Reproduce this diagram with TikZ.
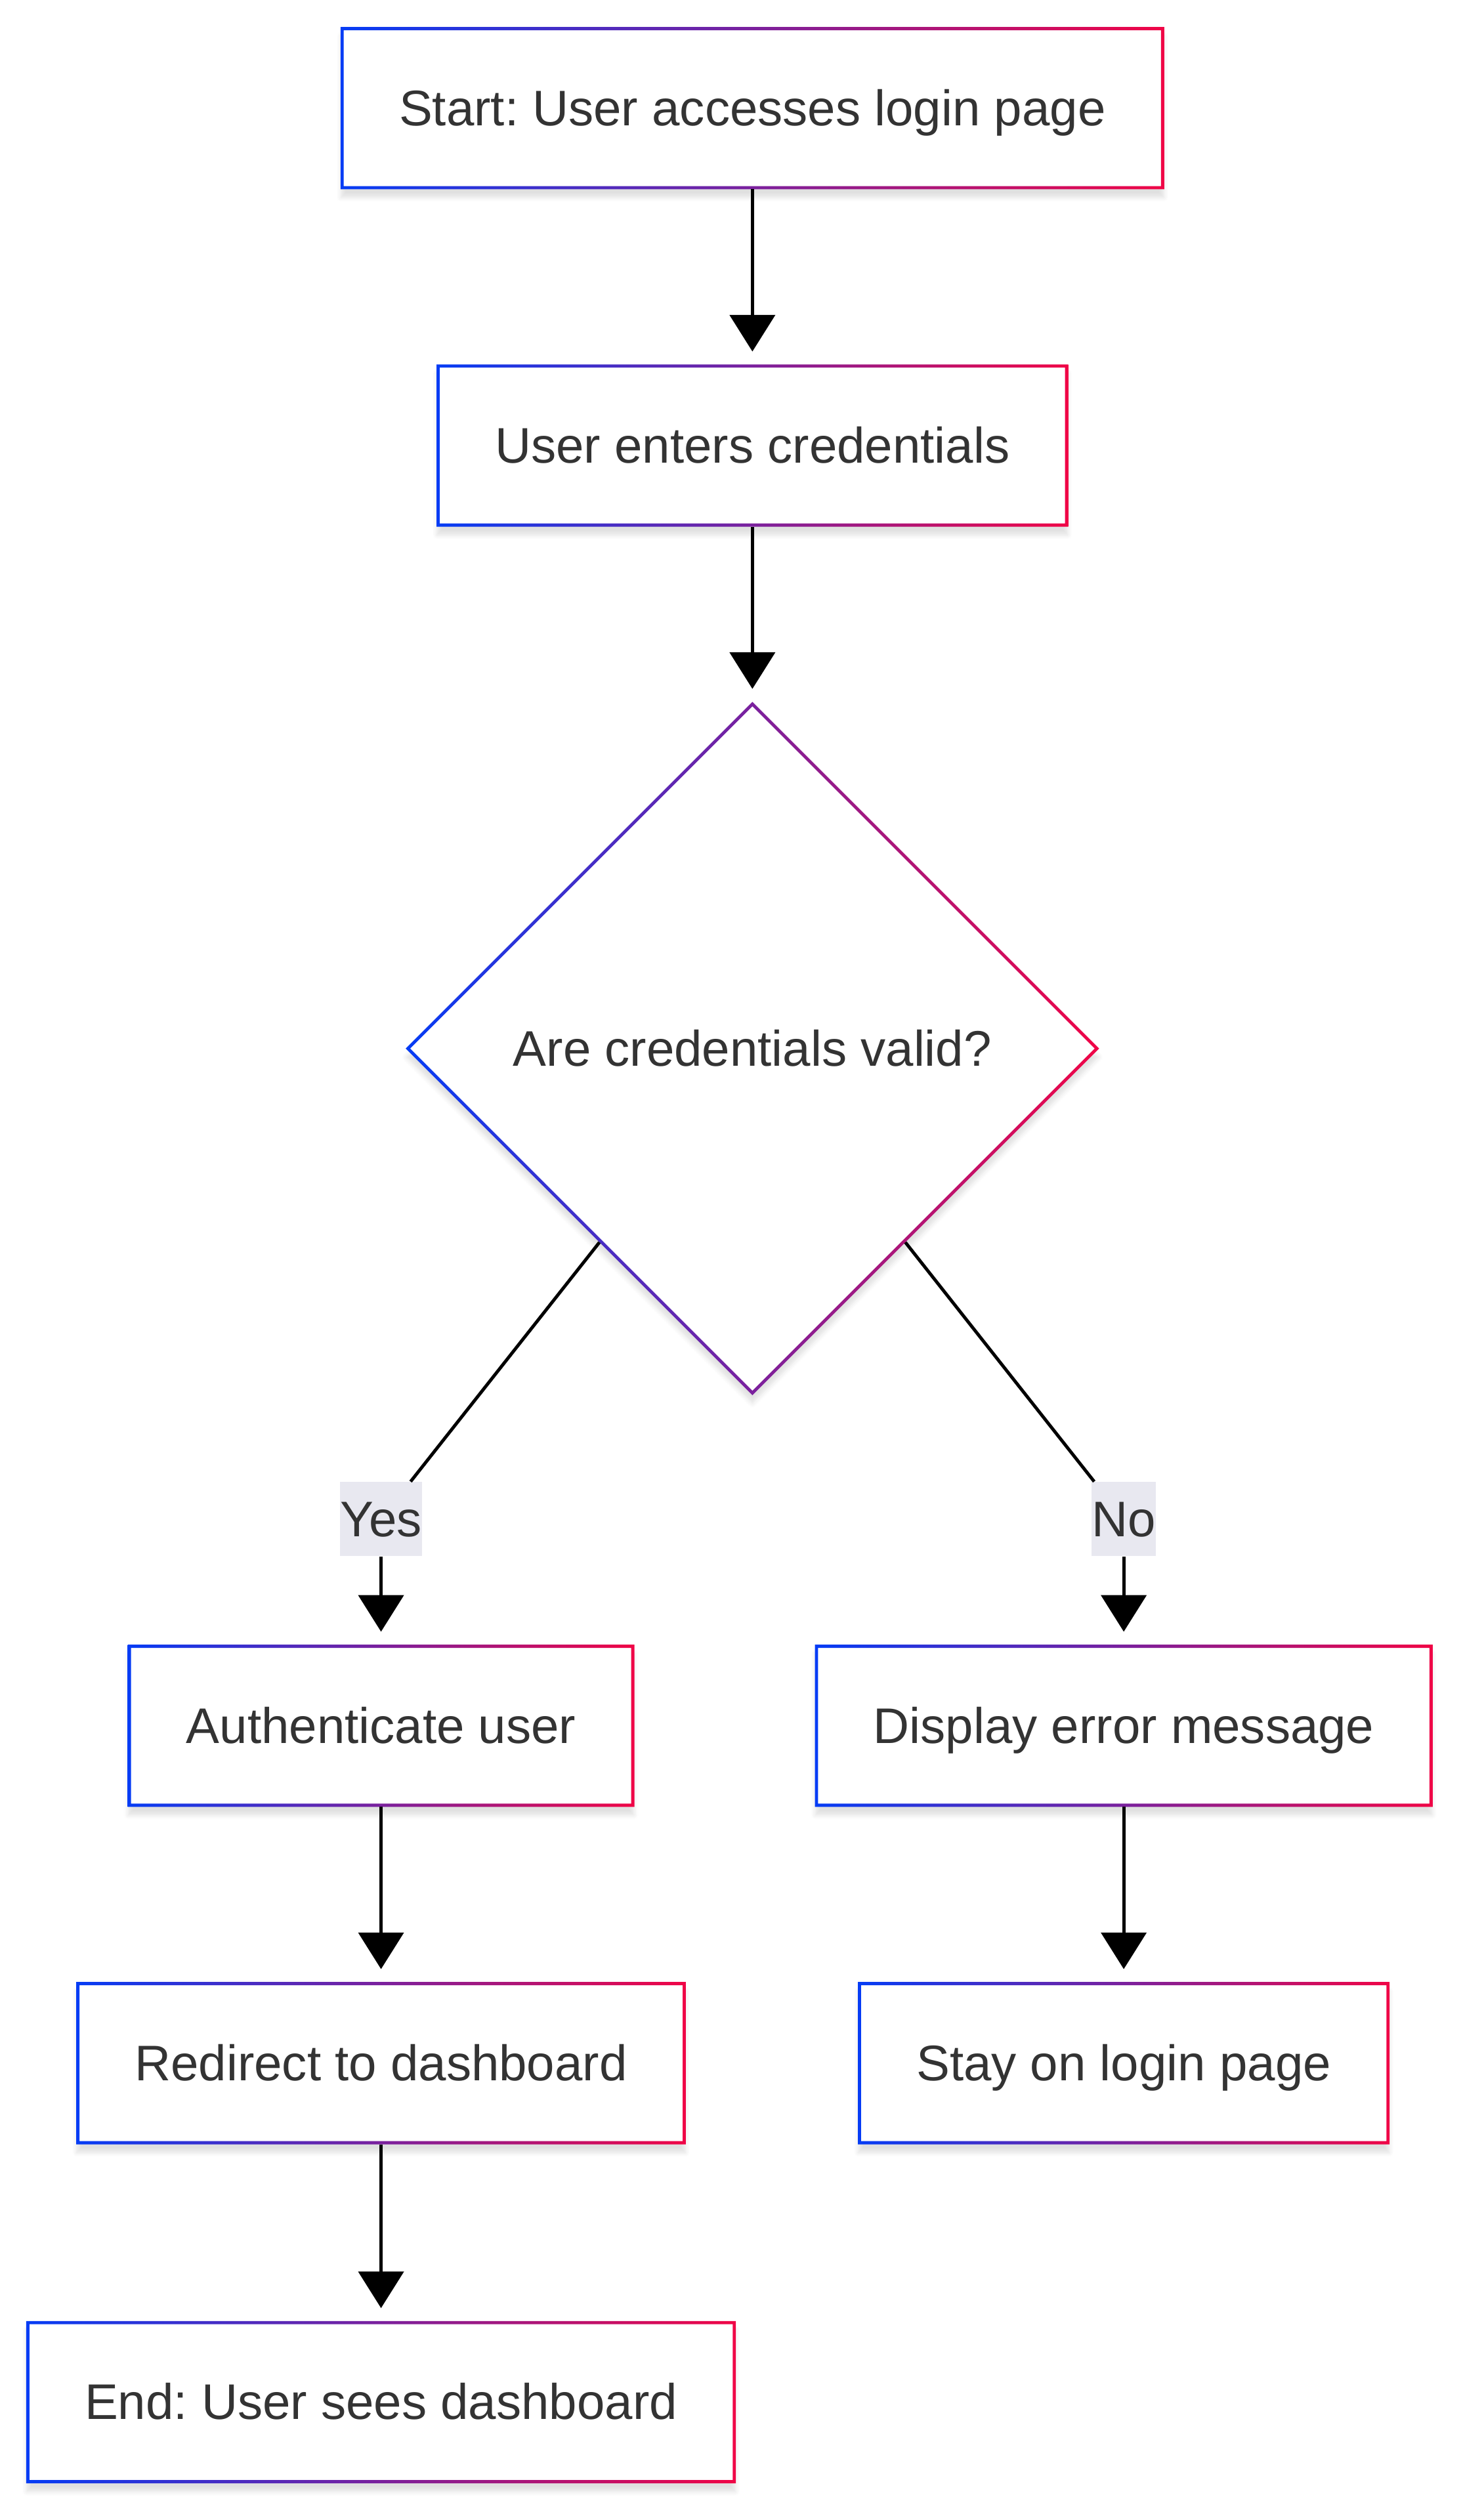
\documentclass[tikz,border=0pt]{standalone}
\usepackage{fontspec}
\setmainfont{Liberation Sans}
\usepackage{tikz}
\usepackage{xcolor}
\usetikzlibrary{shapes.geometric,arrows.meta,calc,shadows.blur}
\frenchspacing

\definecolor{gblue}{RGB}{5,60,245}
\definecolor{gred}{RGB}{240,5,70}
\definecolor{txtgray}{RGB}{51,51,51}
\definecolor{lblgray}{RGB}{232,232,240}

\tikzset{
  flowfont/.style={text=txtgray, font=\fontsize{23.25pt}{28pt}\selectfont, text height=21pt, text depth=4.9pt},
  flowshadow/.style={blur shadow={shadow xshift=0pt, shadow yshift=-4pt, shadow opacity=12, shadow blur steps=6}},
  flowbox/.style={rectangle, fill=white, inner xsep=27pt, inner ysep=0pt, minimum height=75pt, flowfont, flowshadow},
  flowdia/.style={diamond, aspect=1, fill=white, inner sep=0pt, minimum width=321.75pt, minimum height=321.75pt, flowfont, flowshadow},
  edgelabel/.style={rectangle, fill=lblgray, inner xsep=0pt, inner ysep=0pt, minimum height=34.5pt, flowfont},
  flowline/.style={line width=1.5pt},
  flowarrow/.style={flowline, -{Triangle[length=17pt,width=21pt]}, shorten >=6pt},
  gframe/.style={left color=gblue, right color=gred, even odd rule},
}

\begin{document}
\begin{tikzpicture}[x=0.75pt,y=0.75pt,yscale=-1,xscale=1]
    \useasboundingbox (0,0) rectangle (906,1561);

    % Text Node
    \draw (466,67) node [flowbox] (start) {Start: User accesses login page};
    % Text Node
    \draw (466,276) node [flowbox] (creds) {User enters credentials};
    % Decision Node
    \draw (466,649.5) node [flowdia] (dia) {Are credentials valid?};
    % Text Node
    \draw (236,1069) node [flowbox] (auth) {Authenticate user};
    % Text Node
    \draw (696,1069) node [flowbox] (error) {Display error message};
    % Text Node
    \draw (236,1278) node [flowbox] (redirect) {Redirect to dashboard};
    % Text Node
    \draw (696,1278) node [flowbox] (stay) {Stay on login page};
    % Text Node
    \draw (236,1488) node [flowbox] (finish) {End: User sees dashboard};

    % Gradient borders
    \foreach \n in {start,creds,auth,error,redirect,stay,finish}
      \shade[gframe] (\n.north west) rectangle (\n.south east) ($(\n.north west)+(2,2)$) rectangle ($(\n.south east)+(-2,-2)$);
    \shade[gframe] (dia.north) -- (dia.east) -- (dia.south) -- (dia.west) -- cycle ($(dia.north)+(0,2.8)$) -- ($(dia.east)+(-2.8,0)$) -- ($(dia.south)+(0,-2.8)$) -- ($(dia.west)+(2.8,0)$) -- cycle;

    % Edge labels
    \draw (236,941) node [edgelabel] (yes) {Yes};
    \draw (696,941) node [edgelabel] (no) {No};

    %Straight Lines
    \draw [flowarrow] (start) -- (creds);
    %Straight Lines
    \draw [flowarrow] (creds) -- (dia);
    %Straight Lines
    \draw [flowline] (dia) -- (yes);
    \draw [flowarrow] (yes) -- (auth);
    %Straight Lines
    \draw [flowline] (dia) -- (no);
    \draw [flowarrow] (no) -- (error);
    %Straight Lines
    \draw [flowarrow] (auth) -- (redirect);
    %Straight Lines
    \draw [flowarrow] (redirect) -- (finish);
    %Straight Lines
    \draw [flowarrow] (error) -- (stay);

\end{tikzpicture}
\end{document}
